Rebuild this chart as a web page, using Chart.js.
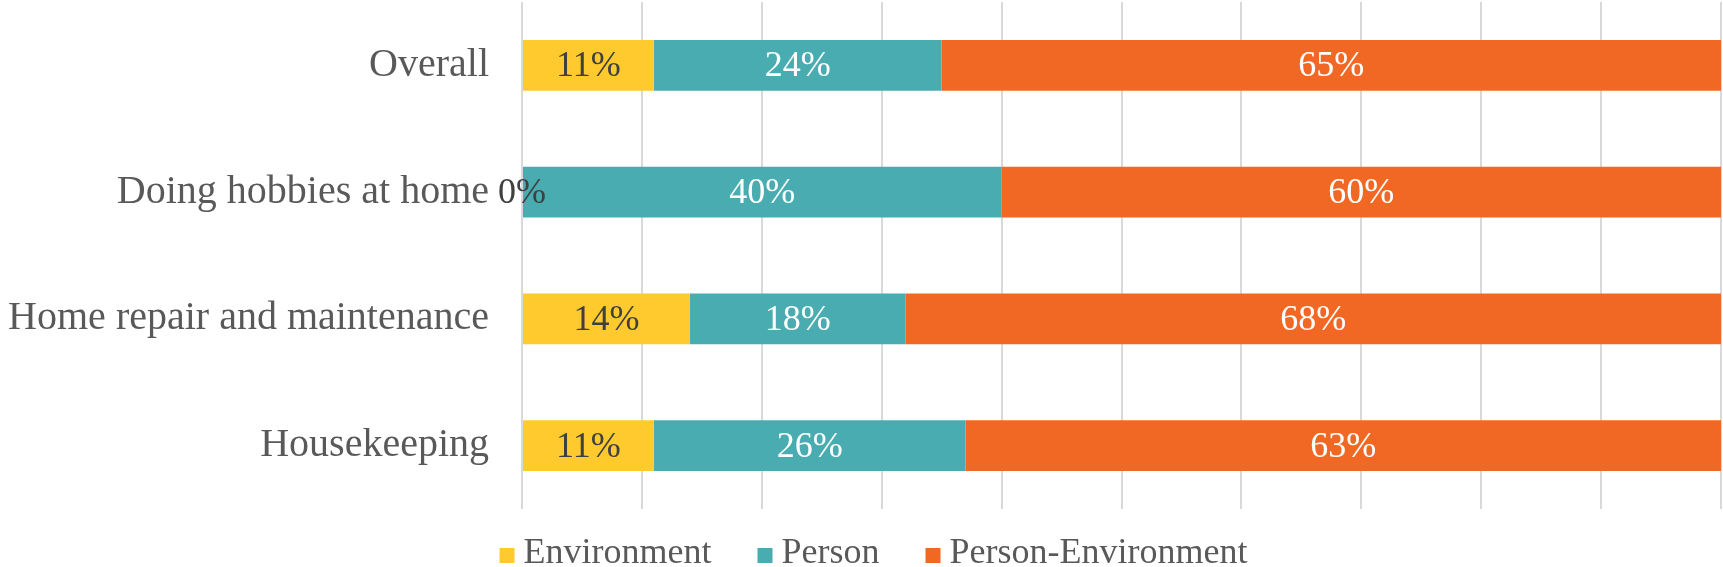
<!DOCTYPE html>
<html>
<head>
<meta charset="utf-8">
<script src="https://cdn.jsdelivr.net/npm/chart.js@4"></script>
<style>
  html, body { margin: 0; padding: 0; background: #ffffff; }
  #wrap { width: 1723px; height: 567px; }
</style>
</head>
<body>
<div id="wrap"><canvas id="shareChart"></canvas></div>
<script>
const categories = ['Overall', 'Doing hobbies at home', 'Home repair and maintenance', 'Housekeeping'];
const environmentValues = [11, 0, 14, 11];
const personValues = [24, 40, 18, 26];
const personEnvironmentValues = [65, 60, 68, 63];
const seriesNames = ['Environment', 'Person', 'Person-Environment'];

const fontFamily = '"Liberation Serif", "Times New Roman", serif';

// value labels in the middle of each segment
const segmentLabels = {
    id: 'segmentLabels',
    afterDatasetsDraw(chart) {
        const ctx = chart.ctx;
        ctx.save();
        ctx.font = '36px ' + fontFamily;
        ctx.textAlign = 'center';
        ctx.textBaseline = 'alphabetic';
        chart.data.datasets.forEach((ds, i) => {
            const meta = chart.getDatasetMeta(i);
            meta.data.forEach((bar, j) => {
                ctx.fillStyle = i === 0 ? '#404040' : '#ffffff';
                ctx.fillText(ds.data[j] + '%', (bar.x + bar.base) / 2, bar.y + 11);
            });
        });
        ctx.restore();
    }
};

// legend under the plot, square markers sitting on the baseline
const bottomLegend = {
    id: 'bottomLegend',
    afterDraw(chart) {
        const ctx = chart.ctx;
        const box = 15, boxGap = 9, itemGap = 46;
        const baseline = 563;
        ctx.save();
        ctx.font = '36px ' + fontFamily;
        ctx.textBaseline = 'alphabetic';
        ctx.textAlign = 'left';
        const items = chart.data.datasets.map(ds => ({
            text: ds.label,
            color: ds.backgroundColor,
            w: ctx.measureText(ds.label).width
        }));
        let total = 0;
        items.forEach((it, k) => { total += box + boxGap + it.w + (k ? itemGap : 0); });
        let x = chart.width / 2 + 12 - total / 2;
        items.forEach(it => {
            ctx.fillStyle = it.color;
            ctx.fillRect(x, baseline - box, box, box);
            ctx.fillStyle = '#595959';
            ctx.fillText(it.text, x + box + boxGap, baseline);
            x += box + boxGap + it.w + itemGap;
        });
        ctx.restore();
    }
};

const ctxShare = document.getElementById('shareChart').getContext('2d');

new Chart(ctxShare, {
    type: 'bar',
    data: {
        labels: categories,
        datasets: [{
            label: seriesNames[0],
            data: environmentValues,
            backgroundColor: '#ffca2e',
        }, {
            label: seriesNames[1],
            data: personValues,
            backgroundColor: '#48acb0',
        }, {
            label: seriesNames[2],
            data: personEnvironmentValues,
            backgroundColor: '#f16825',
        }]
    },
    options: {
        indexAxis: 'y',
        responsive: true,
        maintainAspectRatio: false,
        animation: false,
        layout: {
            padding: { top: 2, right: 2, bottom: 58, left: 0 }
        },
        datasets: {
            bar: {
                barPercentage: 0.4,
                categoryPercentage: 1,
                borderWidth: 0
            }
        },
        scales: {
            x: {
                stacked: true,
                min: 0,
                max: 100,
                ticks: { display: false, stepSize: 10 },
                grid: { color: '#d9d9d9', lineWidth: 2, drawTicks: false },
                border: { display: false }
            },
            y: {
                stacked: true,
                grid: { display: false, drawTicks: false },
                border: { display: false },
                ticks: {
                    color: '#595959',
                    padding: 33,
                    font: { family: fontFamily, size: 40 }
                },
                afterFit(scale) {
                    scale.width = 522;
                    scale.paddingTop = 0;
                    scale.paddingBottom = 0;
                }
            }
        },
        plugins: {
            legend: { display: false },
            tooltip: { enabled: false }
        }
    },
    plugins: [segmentLabels, bottomLegend]
});
</script>
</body>
</html>
